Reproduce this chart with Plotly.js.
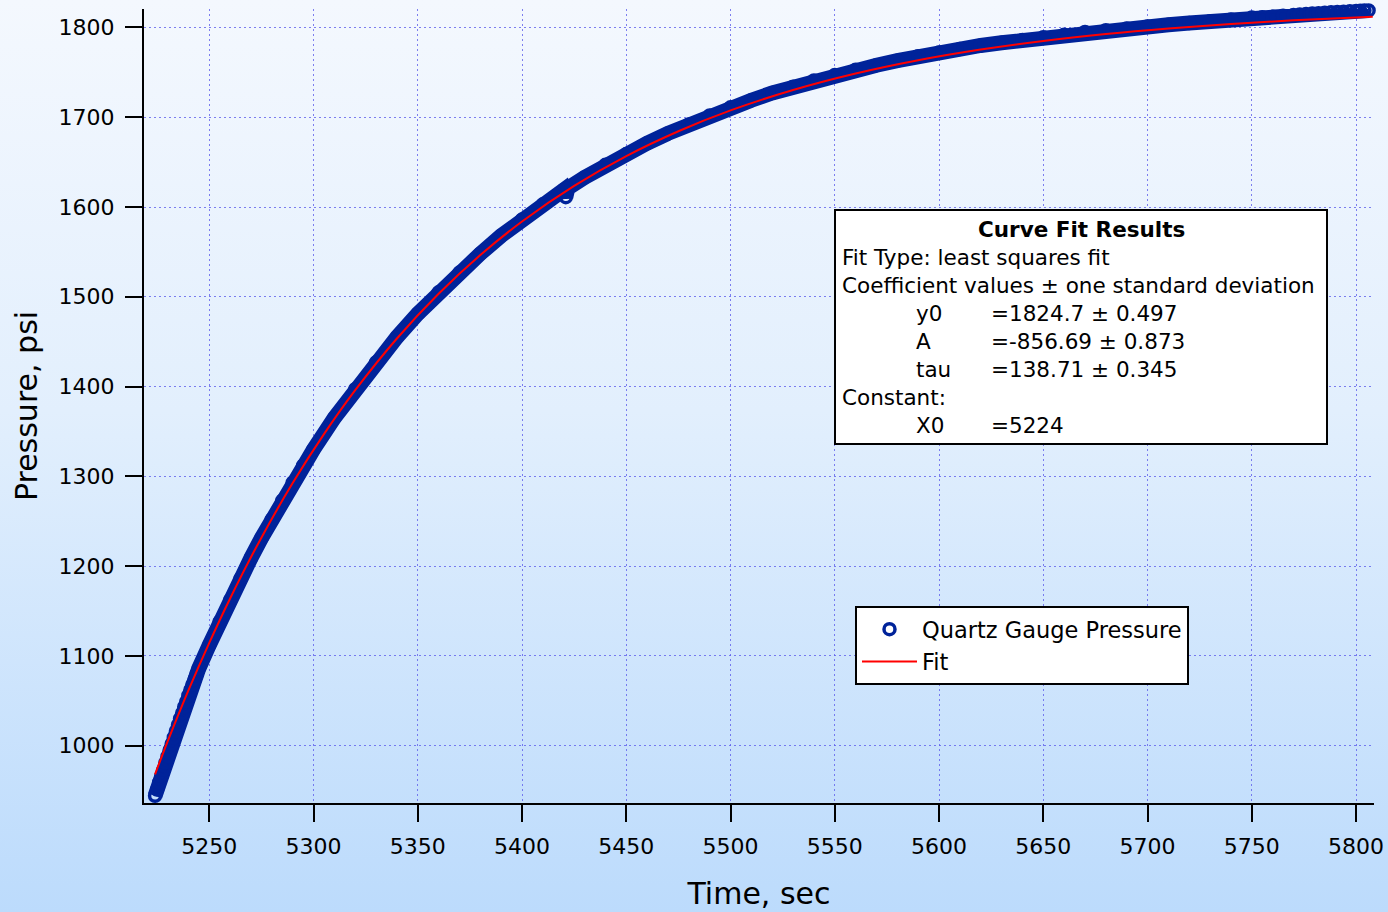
<!DOCTYPE html>
<html>
<head>
<meta charset="utf-8">
<script src="https://cdn.plot.ly/plotly-3.0.1.min.js"></script>
<style>
  html, body { margin: 0; padding: 0; }
  body { width: 1388px; height: 912px; background: linear-gradient(to bottom, #f4f8fe 0%, #e2effd 45%, #bcdbfc 100%); }
  #chart { width: 1388px; height: 912px; }
</style>
</head>
<body>
<div id="chart"></div>
<script>
// Measured data: Quartz Gauge Pressure (psi) vs time (sec)
const time = [5224,5225,5226,5227,5228,5229,5230,5231,5232,5233,5234,5235,5236,5237,5238,5239,5240,5241,5242,5243,5244,5245,
  5250,5255,5260,5265,5270,5275,5280,5285,5290,5295,5300,
  5310,5320,5330,5340,5350,5360,5370,5380,5390,5400,5410,5420,5421,5422,5430,5440,5450,5460,5470,5480,5490,5500,
  5510,5520,5530,5540,5550,5560,5570,5580,5590,5600,5610,5620,5630,5640,5650,5660,5670,5680,5690,5700,
  5710,5720,5730,5740,5750,5755,5760,5765,5770,5773,5776,5779,5782,5785,5788,5791,5794,5797,5800,5802,5804,5806];
const pressure = [944,951,959,966,973,981,988,995,1002,1009,1016,1023,1030,1036,1043,1049,1056,1062,1068,1074,1080,1086,
  1112,1138,1162,1186,1209,1231,1252,1273,1293,1312,1330,
  1365,1397,1427,1455,1481,1505,1527,1548,1568,1586,1603,1619,1611,1621,1633,1647,1659,1671,1682,1692,1702,1711,
  1719,1727,1734,1741,1747,1753,1758,1763,1768,1772,1776,1780,1783,1786,1789,1792,1795,1797,1799,1801,
  1803,1805,1807,1809,1811,1811.5,1812,1813,1814,1814.5,1815,1815.5,1816,1816.5,1817,1817.3,1817.6,1818,1818.3,1818.6,1818.8,1819];

// Fit curve
const fitTime = [5224,5230,5240,5250,5260,5275,5290,5305,5320,5340,5360,5380,5400,5425,5450,5475,5500,
  5530,5560,5590,5620,5650,5680,5710,5740,5770,5808];
const fitPressure = [968.0,1004.3,1061.4,1114.4,1163.9,1231.6,1292.4,1346.9,1395.9,1453.5,1503.3,1546.5,1583.9,1623.5,1656.7,1684.4,1707.6,
  1730.3,1748.7,1763.5,1775.4,1785.0,1792.7,1798.9,1803.9,1808.0,1812.0];

const xTicks = [5250,5300,5350,5400,5450,5500,5550,5600,5650,5700,5750,5800];
const yTicks = [1000,1100,1200,1300,1400,1500,1600,1700,1800];

const seriesNames = ["Quartz Gauge Pressure", "Fit"];
const xTitle = "Time, sec";
const yTitle = "Pressure, psi";

const boxTitle = "Curve Fit Results";
const boxLines = ["Fit Type: least squares fit", "Coefficient values ± one standard deviation"];
const coefNames = ["y0", "A", "tau"];
const coefValues = ["=1824.7 ± 0.497", "=-856.69 ± 0.873", "=138.71 ± 0.345"];
const constLabel = "Constant:";
const constName = "X0";
const constValue = "=5224";

const FONT = "DejaVu Sans, Liberation Sans, Arial, sans-serif";
const BLUE = "#00239a";

const traces = [
  { x: time, y: pressure, type: "scatter", mode: "lines", showlegend: false, hoverinfo: "skip",
    line: { color: BLUE, width: 15 } },
  { x: time, y: pressure, type: "scatter", mode: "markers", name: seriesNames[0], cliponaxis: false,
    marker: { symbol: "circle-open", size: 11, color: BLUE, line: { color: BLUE, width: 3.5 } } },
  { x: fitTime, y: fitPressure, type: "scatter", mode: "lines", name: seriesNames[1],
    line: { color: "#ff0000", width: 2, shape: "spline" } }
];

// paper coords helpers (plot area px: left 144, right 1374, top 9, bottom 803)
const PX = (px) => (px - 144) / 1230;
const PY = (py) => (803 - py) / 794;

const annotations = [];
const lineY = [229, 257, 285, 313, 341, 369, 397, 425];
annotations.push({ text: "<b>" + boxTitle + "</b>", x: PX(1081), y: PY(lineY[0]), xanchor: "center" });
annotations.push({ text: boxLines[0], x: PX(840), y: PY(lineY[1]), xanchor: "left" });
annotations.push({ text: boxLines[1], x: PX(840), y: PY(lineY[2]), xanchor: "left" });
coefNames.forEach((n, i) => {
  annotations.push({ text: n, x: PX(914), y: PY(lineY[3 + i]), xanchor: "left" });
  annotations.push({ text: coefValues[i], x: PX(989), y: PY(lineY[3 + i]), xanchor: "left" });
});
annotations.push({ text: constLabel, x: PX(840), y: PY(lineY[6]), xanchor: "left" });
annotations.push({ text: constName, x: PX(914), y: PY(lineY[7]), xanchor: "left" });
annotations.push({ text: constValue, x: PX(989), y: PY(lineY[7]), xanchor: "left" });
annotations.forEach(a => { a.xref = "paper"; a.yref = "paper"; a.yanchor = "middle"; a.showarrow = false;
  a.font = { family: FONT, size: 21.5, color: "#000" }; });

const axisCommon = {
  showline: true, linecolor: "#000", linewidth: 2,
  ticks: "outside", ticklen: 17, tickwidth: 2, tickcolor: "#000",
  showgrid: true, gridcolor: "rgba(95,95,235,0.8)", gridwidth: 1, griddash: "2px,3px",
  zeroline: false, mirror: false,
  tickfont: { family: FONT, size: 22, color: "#000" }
};

const layout = {
  width: 1388, height: 912,
  margin: { l: 144, r: 14, t: 9, b: 109 },
  paper_bgcolor: "rgba(0,0,0,0)", plot_bgcolor: "rgba(0,0,0,0)",
  font: { family: FONT, color: "#000" },
  xaxis: Object.assign({}, axisCommon, {
    range: [5218.7, 5808.6], tickmode: "array", tickvals: xTicks, ticktext: xTicks.map(String),
    ticklabelstandoff: 6, automargin: false,
    title: { text: xTitle, font: { family: FONT, size: 30, color: "#000" }, standoff: 25 }
  }),
  yaxis: Object.assign({}, axisCommon, {
    range: [936, 1820.6], tickmode: "array", tickvals: yTicks, ticktext: yTicks.map(String),
    ticklabelstandoff: 6, automargin: false,
    title: { text: yTitle, font: { family: FONT, size: 30, color: "#000" }, standoff: 12 }
  }),
  showlegend: true,
  legend: {
    x: PX(855), y: PY(606), xanchor: "left", yanchor: "top",
    bgcolor: "#ffffff", bordercolor: "#000", borderwidth: 2,
    font: { family: FONT, size: 22.5, color: "#000" },
    itemwidth: 55, tracegroupgap: 0
  },
  shapes: [
    { type: "rect", xref: "paper", yref: "paper", x0: PX(835), x1: PX(1327), y0: PY(444), y1: PY(210),
      line: { color: "#000", width: 2 }, fillcolor: "#ffffff", layer: "above" }
  ],
  annotations: annotations
};

Plotly.newPlot("chart", traces, layout, { staticPlot: true, displayModeBar: false });
</script>
</body>
</html>
